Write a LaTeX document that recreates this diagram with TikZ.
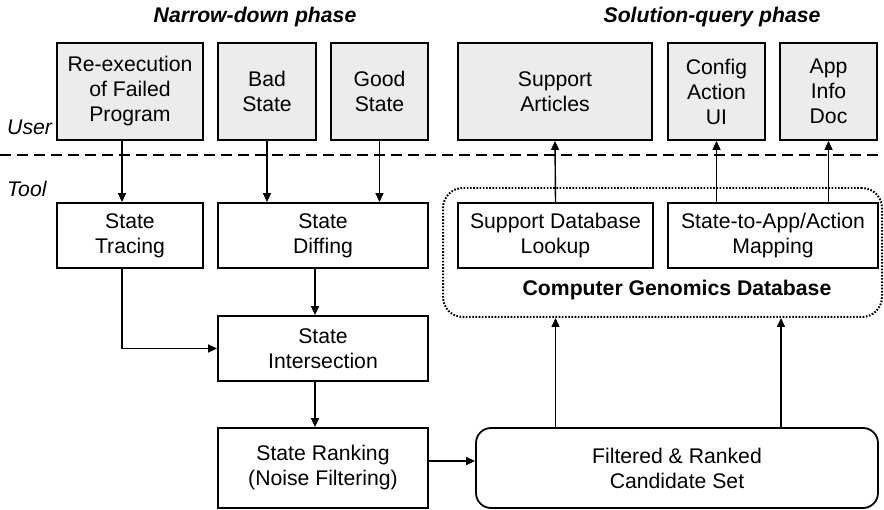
\documentclass[tikz,border=0pt]{standalone}
\usepackage{fontspec}
\setmainfont{Liberation Sans}
\usetikzlibrary{arrows.meta,calc}
\begin{document}
\begin{tikzpicture}[x=1pt,y=-1pt,
  txt/.style={font=\fontsize{21.2}{25}\selectfont},
  box/.style={draw, line width=1.8pt, align=center, inner sep=0pt, txt},
  ubox/.style={box, fill=gray!15},
  arr/.style={line width=1.4pt, -{Triangle[length=9pt,width=8pt]}},
  lbl/.style={font=\fontsize{21.2}{25}\selectfont\itshape, anchor=base west, inner sep=0pt},
  ttl/.style={font=\fontsize{21.2}{25}\selectfont\bfseries\itshape, anchor=base, inner sep=0pt}]
\useasboundingbox (0,0) rectangle (884,510);
% titles and lane labels
\node[ttl] (t1) at (255,23) {Narrow-down phase};
\node[ttl] (t2) at (712,23) {Solution-query phase};
\node[lbl] (user) at (7,135) {User};
\node[lbl] (tool) at (7,197) {Tool};
\coordinate (dl) at (0,155);
\coordinate (dr) at (884,155);
\draw[line width=2.4pt, dash pattern=on 11pt off 6pt] (dl) -- (dr);
% user boxes
\node[ubox, minimum width=146, minimum height=97] (reexec) at (130,91.5) {Re-execution\\of Failed\\Program};
\node[ubox, minimum width=98, minimum height=97] (bad) at (267,91.5) {Bad\\State};
\node[ubox, minimum width=97, minimum height=97] (good) at (379.5,91.5) {Good\\State};
\node[ubox, minimum width=194, minimum height=97] (articles) at (555,91.5) {Support\\Articles};
\node[ubox, minimum width=97, minimum height=97] (config) at (716.5,91.5) {Config\\Action\\UI};
\node[ubox, minimum width=97, minimum height=97] (app) at (828.5,91.5) {App\\Info\\Doc};
% database group
\node[draw, line width=2pt, dash pattern=on 1.6pt off 1.6pt, rounded corners=20pt, minimum width=439, minimum height=129, inner sep=0pt] (db) at (662.5,252.5) {};
\node[font=\fontsize{21.2}{25}\selectfont\bfseries, inner sep=0pt] (dbl) at (677,290) {Computer Genomics Database};
% tool boxes
\node[box, minimum width=146, minimum height=65] (tracing) at (130,235.5) {State\\Tracing};
\node[box, minimum width=210, minimum height=65] (diffing) at (323,235.5) {State\\Diffing};
\node[box, minimum width=195, minimum height=65] (lookup) at (555.5,235.5) {Support Database\\Lookup};
\node[box, minimum width=210, minimum height=65] (mapping) at (773,235.5) {State-to-App/Action\\Mapping};
\node[box, minimum width=210, minimum height=65] (inter) at (323,348.5) {State\\Intersection};
\node[box, minimum width=210, minimum height=80] (ranking) at (323,468) {State Ranking\\(Noise Filtering)};
\node[box, rounded corners=15pt, minimum width=402, minimum height=80] (filtered) at (677,468) {Filtered \& Ranked\\Candidate Set};
% connectors
\draw[arr] ([xshift=-8pt]reexec.south) -- ([xshift=-8pt]tracing.north);
\draw[arr] (bad.south) -- (bad.south |- diffing.north);
\draw[arr] (good.south) -- (good.south |- diffing.north);
\draw[arr] ([xshift=-8pt]tracing.south) |- (inter.west);
\draw[arr] ([xshift=-8pt]diffing.south) -- ([xshift=-8pt]inter.north);
\draw[arr] ([xshift=-8pt]inter.south) -- ([xshift=-8pt]ranking.north);
\draw[arr] ([yshift=7pt]ranking.east) -- ([yshift=7pt]ranking.east -| filtered.west);
\draw[arr] (filtered.north -| lookup) -- (lookup |- db.south);
\draw[arr] ([xshift=104pt]filtered.north) -- ([xshift=104pt]filtered.north |- db.south);
\draw[arr] (lookup.north) -- (articles.south);
\draw[arr] (mapping.north -| config) -- (config.south);
\draw[arr] (mapping.north -| app) -- (app.south);
\end{tikzpicture}
\end{document}
